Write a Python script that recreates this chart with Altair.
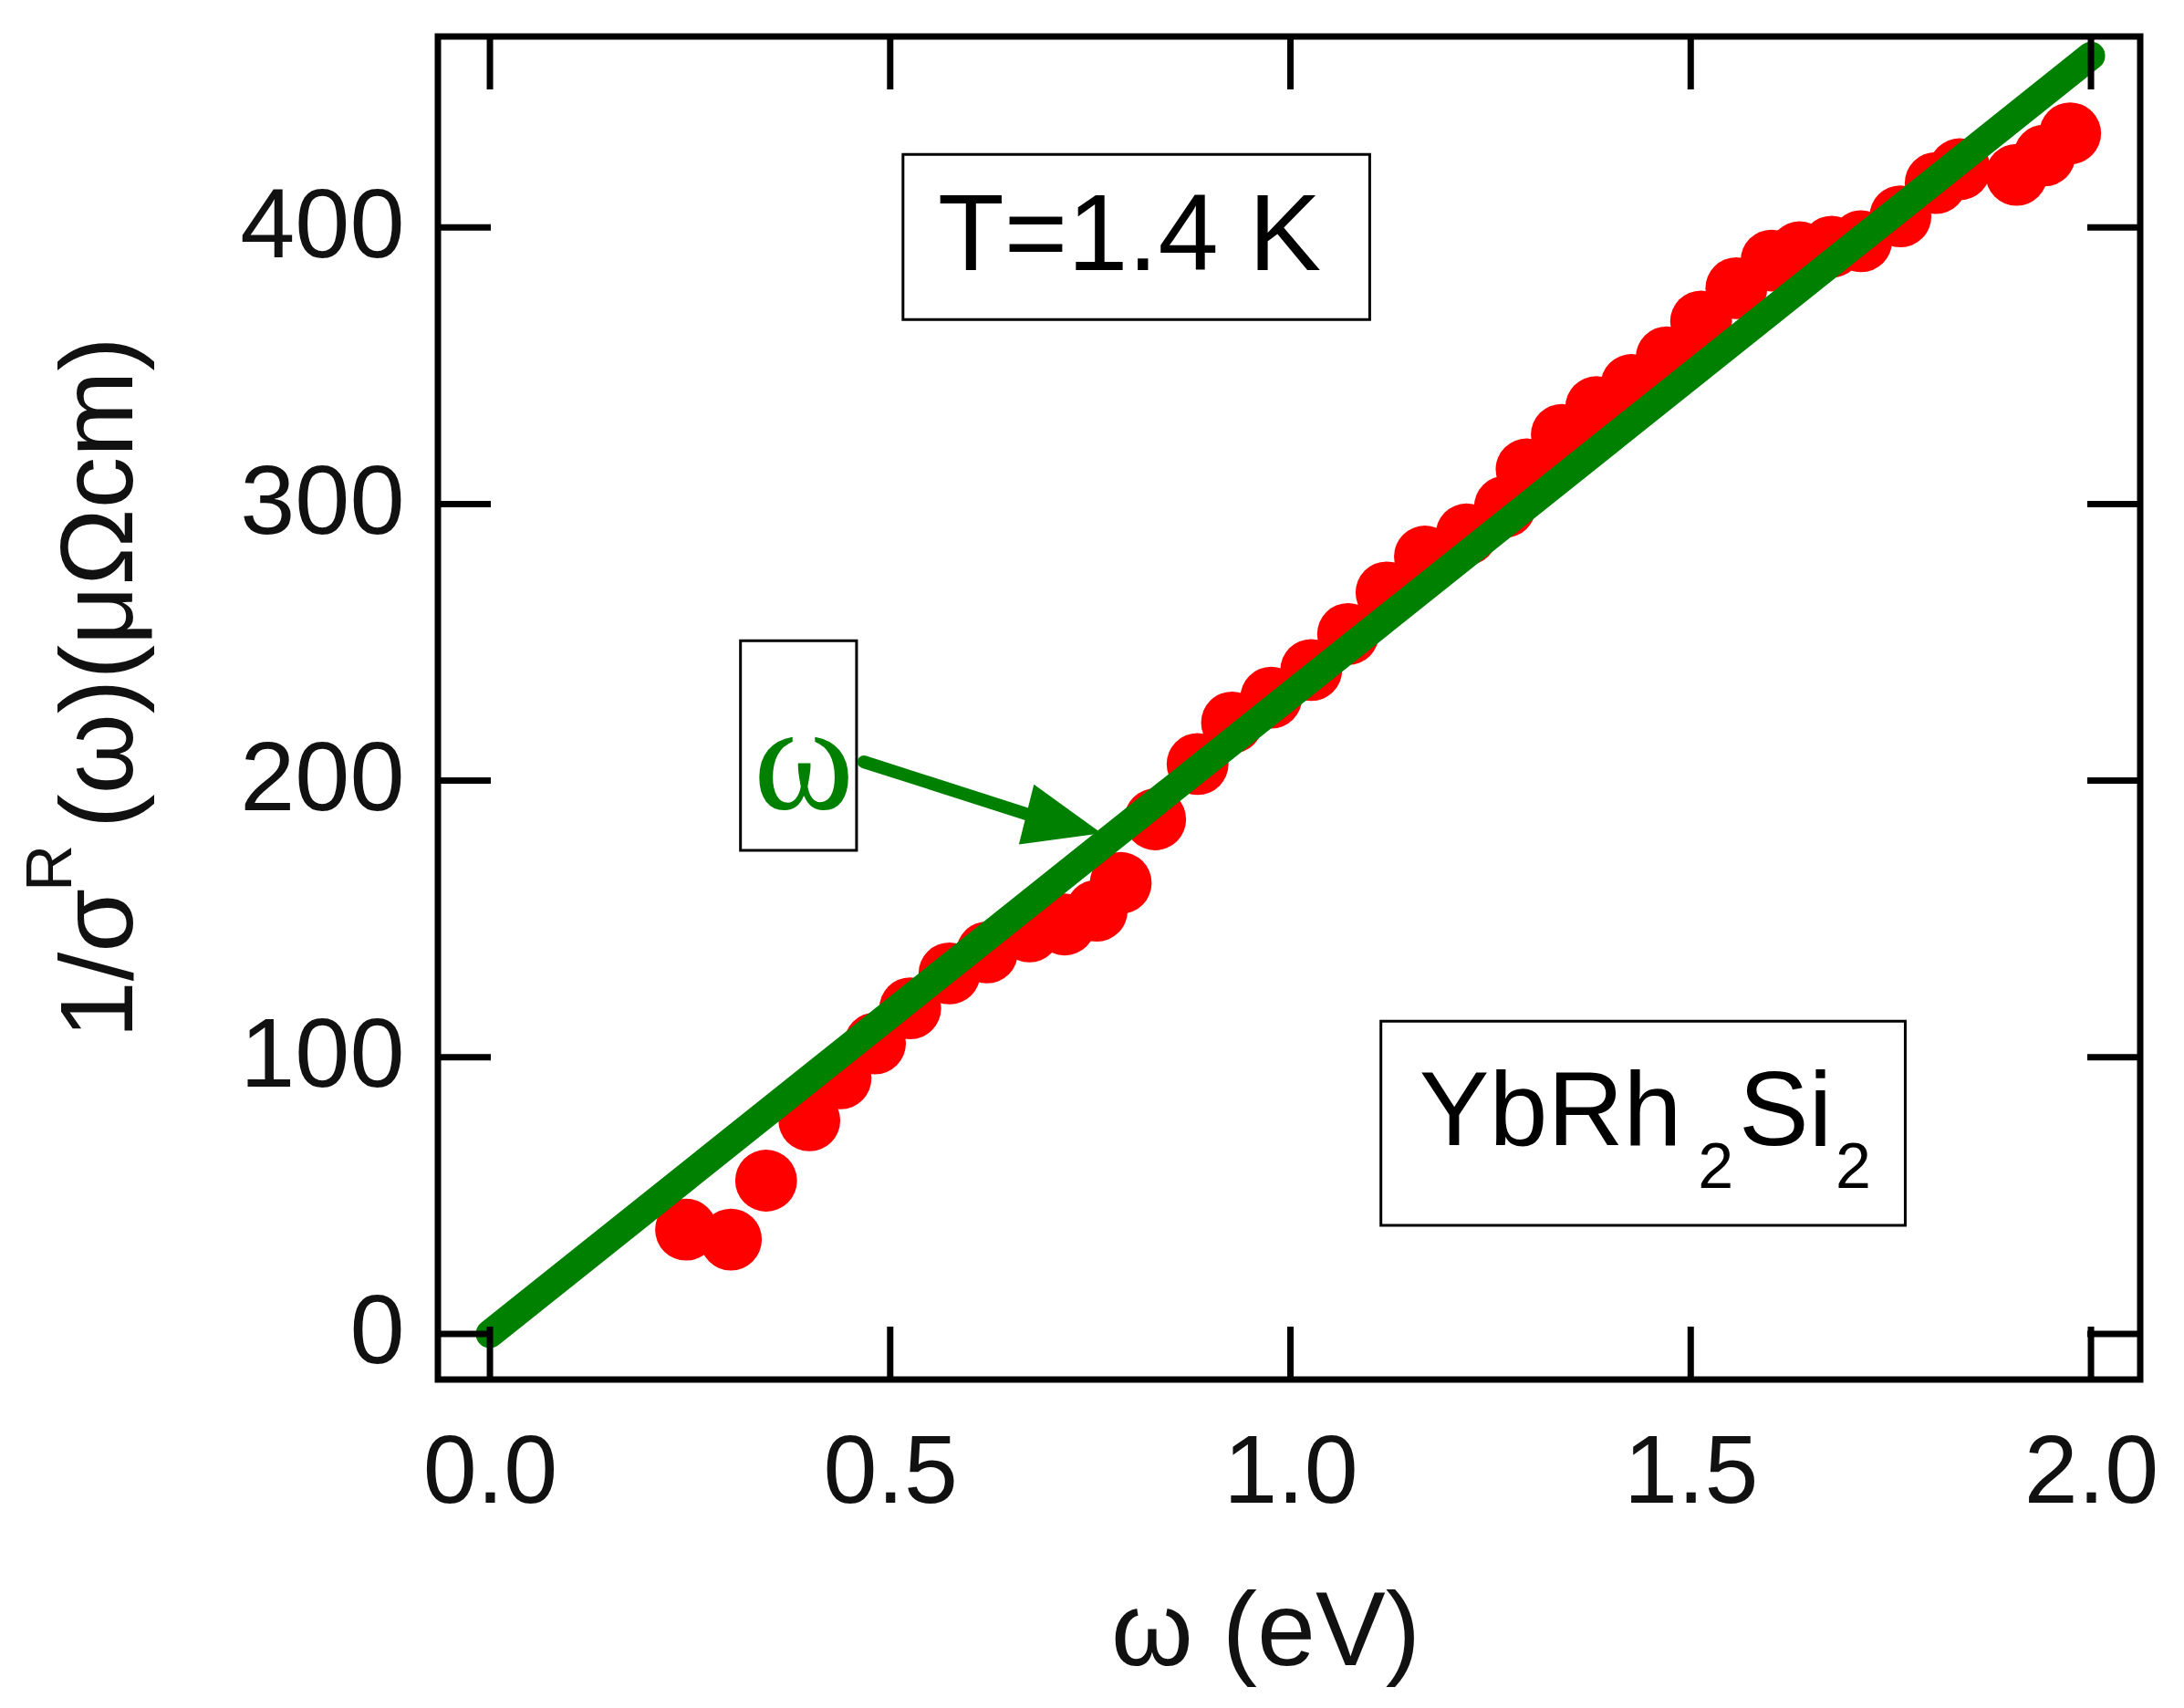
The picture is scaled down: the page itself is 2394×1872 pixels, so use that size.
import altair as alt
import pandas as pd

# ---- data ----
omega_ev = [0.245, 0.301, 0.345, 0.399, 0.438, 0.481, 0.525, 0.574, 0.621, 0.674,
            0.718, 0.758, 0.788, 0.831, 0.884, 0.927, 0.976, 1.026, 1.072, 1.120,
            1.168, 1.220, 1.268, 1.295, 1.339, 1.382, 1.426, 1.470, 1.513, 1.557,
            1.601, 1.636, 1.676, 1.713, 1.762, 1.806, 1.836, 1.907, 1.942, 1.974]
inv_sigma = [37.7, 34.1, 55.4, 77.2, 92.4, 105.0, 117.7, 130.3, 137.9, 145.5,
             148.0, 153.0, 163.0, 186.0, 206.0, 221.0, 230.0, 240.0, 253.0, 268.0,
             281.0, 289.0, 299.0, 312.5, 325.0, 335.0, 343.0, 353.0, 366.0, 378.0,
             388.0, 391.0, 393.0, 395.0, 404.0, 416.0, 421.0, 419.0, 426.0, 434.0]

fit_x = [0.0, 2.0]
fit_y = [0.0, 462.0]

x_ticks = [0.0, 0.5, 1.0, 1.5, 2.0]
y_ticks = [0, 100, 200, 300, 400]

x_domain = [-0.065, 2.0615]
y_domain = [-16.5, 469.0]

# annotation anchors (data coordinates)
arrow_x = [0.467, 0.672]
arrow_y = [206.8, 187.8]
arrow_tip = [0.764, 181.0]
omega_box = [0.313, 0.458, 174.8, 250.6]
omega_label = [0.392, 206.4]
t_box = [0.516, 1.099, 366.7, 426.4]
t_label = [0.5595, 384.5]
yb_box = [1.113, 1.768, 39.2, 113.0]
yb_parts = ["YbRh", "2", "Si", "2"]
yb_x = [1.161, 1.509, 1.560, 1.681]
yb_y = [68.3, 52.8, 68.3, 52.8]
yb_size = [115, 70, 115, 70]

W, H = 1866, 1472
FONT = "Liberation Sans"
RED = "#ff0000"
GREEN = "#008000"

xs = alt.Scale(domain=x_domain, nice=False, zero=False)
ys = alt.Scale(domain=y_domain, nice=False, zero=False)

pts = pd.DataFrame({"w": omega_ev, "r": inv_sigma})
points = alt.Chart(pts).mark_circle(size=4600, color=RED, opacity=1).encode(
    x=alt.X("w:Q", scale=xs,
            axis=alt.Axis(values=x_ticks, format=".1f", ticks=False, domain=False, grid=False,
                          labelFontSize=106, labelFont=FONT, labelColor="#111",
                          labelPadding=50, labelLimit=500, title="ω (eV)", titleFont=FONT,
                          titleFontSize=115, titleFontWeight="normal", titleColor="#111",
                          titleX=907, titleY=312, titleBaseline="alphabetic",
                          titleAlign="center")),
    y=alt.Y("r:Q", scale=ys,
            axis=alt.Axis(values=y_ticks, format="d", ticks=False, domain=False, grid=False,
                          labelFontSize=108, labelFont=FONT, labelColor="#111",
                          labelPadding=37, labelLimit=500, title="")),
)

fit = alt.Chart(pd.DataFrame({"w": fit_x, "r": fit_y})).mark_line(
    color=GREEN, strokeWidth=31, strokeCap="round").encode(
    x=alt.X("w:Q", scale=xs), y=alt.Y("r:Q", scale=ys))

# frame ticks (inward, all four sides)
xt = pd.DataFrame({"t": x_ticks})
yt = pd.DataFrame({"t": y_ticks})
TL = 58
tick_b = alt.Chart(xt).mark_rule(color="black", strokeWidth=7).encode(
    x=alt.X("t:Q", scale=xs), y=alt.value(H), y2=alt.value(H - TL))
tick_t = alt.Chart(xt).mark_rule(color="black", strokeWidth=7).encode(
    x=alt.X("t:Q", scale=xs), y=alt.value(0), y2=alt.value(TL))
tick_l = alt.Chart(yt).mark_rule(color="black", strokeWidth=7).encode(
    y=alt.Y("t:Q", scale=ys), x=alt.value(0), x2=alt.value(TL))
tick_r = alt.Chart(yt).mark_rule(color="black", strokeWidth=7).encode(
    y=alt.Y("t:Q", scale=ys), x=alt.value(W), x2=alt.value(W - TL))

# boxes
boxes_df = pd.DataFrame({
    "x1": [omega_box[0], t_box[0], yb_box[0]],
    "x2": [omega_box[1], t_box[1], yb_box[1]],
    "y1": [omega_box[2], t_box[2], yb_box[2]],
    "y2": [omega_box[3], t_box[3], yb_box[3]],
})
boxes = alt.Chart(boxes_df).mark_rect(fillOpacity=0, stroke="black", strokeWidth=3).encode(
    x=alt.X("x1:Q", scale=xs), x2="x2:Q", y=alt.Y("y1:Q", scale=ys), y2="y2:Q")

t_text = alt.Chart(pd.DataFrame({"x": [t_label[0]], "y": [t_label[1]], "s": ["T=1.4 K"]})).mark_text(
    font=FONT, fontSize=119, align="left", baseline="alphabetic", color="black").encode(
    x=alt.X("x:Q", scale=xs), y=alt.Y("y:Q", scale=ys), text="s:N")

yb_df = pd.DataFrame({"x": yb_x, "y": yb_y, "s": yb_parts, "f": yb_size})
yb_text = alt.Chart(yb_df).mark_text(
    font=FONT, align="left", baseline="alphabetic", color="black").encode(
    x=alt.X("x:Q", scale=xs), y=alt.Y("y:Q", scale=ys), text="s:N",
    size=alt.Size("f:Q", scale=None, legend=None))

om_text = alt.Chart(pd.DataFrame({"x": [omega_label[0]], "y": [omega_label[1]], "s": ["ω"]})).mark_text(
    font="Liberation Serif", fontSize=168, align="center",
    baseline="middle", color=GREEN).encode(
    x=alt.X("x:Q", scale=xs), y=alt.Y("y:Q", scale=ys), text="s:N")

arrow_line = alt.Chart(pd.DataFrame({"x": arrow_x, "y": arrow_y})).mark_line(
    color=GREEN, strokeWidth=14, strokeCap="round").encode(
    x=alt.X("x:Q", scale=xs), y=alt.Y("y:Q", scale=ys))

arrow_head = alt.Chart(pd.DataFrame({"x": [arrow_tip[0]], "y": [arrow_tip[1]]})).mark_point(
    shape="M0,0L-0.32,0.8L0.32,0.8Z", filled=True, color=GREEN, opacity=1,
    size=45000, angle=104, strokeWidth=0).encode(
    x=alt.X("x:Q", scale=xs), y=alt.Y("y:Q", scale=ys))

# rotated y title with superscript R
ytitle_df = pd.DataFrame({
    "s": ["1/σ", "R", "(ω)(μΩcm)"],
    "px": [-335, -402, -335],
    "py": [1098, 937, 868],
    "f": [113, 71, 113],
})
ytitle = alt.Chart(ytitle_df).mark_text(
    font=FONT, angle=270, align="left", baseline="alphabetic", color="#111").encode(
    x=alt.X("px:Q", scale=None), y=alt.Y("py:Q", scale=None), text="s:N",
    size=alt.Size("f:Q", scale=None, legend=None))

chart = alt.layer(
    points, fit, tick_b, tick_t, tick_l, tick_r, boxes, t_text, yb_text,
    om_text, arrow_line, arrow_head, ytitle
).properties(
    width=W, height=H,
    background="white",
    autosize=alt.AutoSizeParams(type="none"),
    padding={"left": 472, "top": 32, "right": 40, "bottom": 352},
).configure_view(stroke="black", strokeWidth=7)

chart.save("out.html", embed_options={"renderer": "svg", "actions": False})
